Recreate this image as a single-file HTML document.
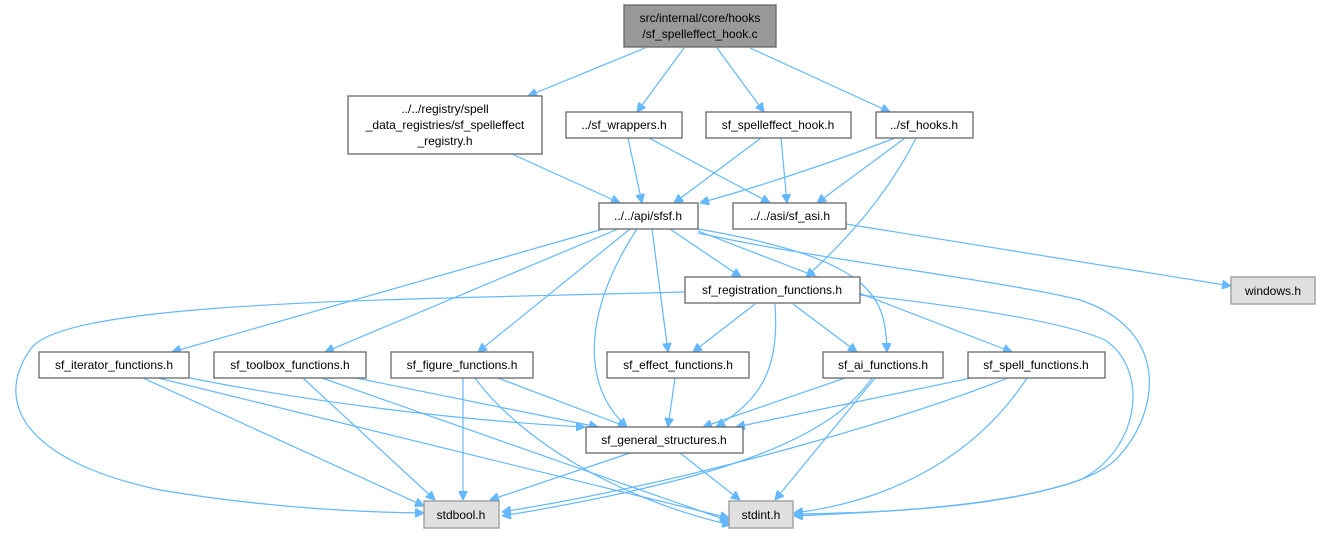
<!DOCTYPE html>
<html><head><meta charset="utf-8"><style>
html,body{margin:0;padding:0;background:#fff;}
svg{display:block;}
text{font-family:"Liberation Sans",Arial,sans-serif;font-size:12px;fill:#000;}
.n{fill:#fff;stroke:#666;stroke-width:1.3;}
.g{fill:#e0e0e0;stroke:#999;stroke-width:1.3;}
.r{fill:#999;stroke:#666;stroke-width:1.3;}
path{fill:none;stroke:#63b8ff;stroke-width:1.2;marker-end:url(#a);}
</style></head><body>
<svg width="1320" height="533" viewBox="0 0 1320 533" xmlns="http://www.w3.org/2000/svg">
<defs><marker id="a" viewBox="0 0 10 10" refX="10" refY="5" markerWidth="9" markerHeight="9" markerUnits="userSpaceOnUse" orient="auto"><path d="M0,0 L10,5 L0,10 z" style="fill:#63b8ff;stroke:#63b8ff;marker-end:none"/></marker></defs>

<path d="M645,48 L528,96"/>
<path d="M684,48 L637,112"/>
<path d="M717,48 L764,112"/>
<path d="M750,48 L890,112"/>
<path d="M512,154 L620,203"/>
<path d="M628,138 L642,203"/>
<path d="M649,138 L770,203"/>
<path d="M761,138 L674,203"/>
<path d="M781,138 L787,203"/>
<path d="M895,138 Q800,175 700,203"/>
<path d="M905,138 L817,203"/>
<path d="M916,138 Q880,210 806,277"/>
<path d="M846,224 L1231,286"/>
<path d="M603,229 L172,352"/>
<path d="M618,229 L325,352"/>
<path d="M630,229 L478,352"/>
<path d="M637,229 C590,300 575,380 627,427"/>
<path d="M652,229 L668,352"/>
<path d="M670,229 L741,277"/>
<path d="M698,229 C880,260 885,300 887,352"/>
<path d="M698,231 L1012,352"/>
<path d="M698,233 C820,260 1000,280 1080,300 C1170,330 1160,410 1120,455 C1080,505 880,512 794,516"/>
<path d="M685,292 C400,300 60,300 30,350 C-5,400 20,460 160,490 C250,505 340,512 424,513"/>
<path d="M860,295 C950,305 1060,320 1105,340 C1150,370 1140,450 1080,480 C1000,508 880,513 794,514"/>
<path d="M755,304 L693,352"/>
<path d="M793,304 L857,352"/>
<path d="M775,304 C780,370 760,400 716,427"/>
<path d="M143,378 L424,506"/>
<path d="M158,378 L729,518"/>
<path d="M190,378 C300,400 450,420 585,427"/>
<path d="M303,378 L435,500"/>
<path d="M322,378 L729,521"/>
<path d="M356,378 L598,427"/>
<path d="M463,378 L463,500"/>
<path d="M475,378 C520,440 620,500 731,525"/>
<path d="M498,378 L627,427"/>
<path d="M675,378 L668,427"/>
<path d="M845,378 L703,427"/>
<path d="M872,378 C830,440 720,480 502,516"/>
<path d="M875,378 L775,500"/>
<path d="M971,378 L736,427"/>
<path d="M1008,378 C900,420 700,480 502,512"/>
<path d="M1027,378 C980,450 900,500 794,513"/>
<path d="M630,453 L490,500"/>
<path d="M680,453 L740,500"/>

<rect class="r" x="624" y="5" width="152" height="42"/>
<text x="700" y="22" text-anchor="middle">src/internal/core/hooks</text>
<text x="700" y="38" text-anchor="middle">/sf_spelleffect_hook.c</text>

<rect class="n" x="348" y="96" width="194" height="58"/>
<text x="445" y="113" text-anchor="middle">../../registry/spell</text>
<text x="445" y="129" text-anchor="middle">_data_registries/sf_spelleffect</text>
<text x="445" y="145" text-anchor="middle">_registry.h</text>

<rect class="n" x="566" y="112" width="116" height="26"/><text x="624" y="129" text-anchor="middle">../sf_wrappers.h</text>
<rect class="n" x="706" y="112" width="145" height="26"/><text x="778" y="129" text-anchor="middle">sf_spelleffect_hook.h</text>
<rect class="n" x="876" y="112" width="97" height="26"/><text x="924" y="129" text-anchor="middle">../sf_hooks.h</text>

<rect class="n" x="599" y="203" width="99" height="26"/><text x="648" y="220" text-anchor="middle">../../api/sfsf.h</text>
<rect class="n" x="733" y="203" width="113" height="26"/><text x="790" y="220" text-anchor="middle">../../asi/sf_asi.h</text>

<rect class="n" x="685" y="277" width="175" height="26"/><text x="772" y="294" text-anchor="middle">sf_registration_functions.h</text>
<rect class="g" x="1231" y="277" width="84" height="27"/><text x="1273" y="295" text-anchor="middle">windows.h</text>

<rect class="n" x="39" y="352" width="150" height="26"/><text x="114" y="369" text-anchor="middle">sf_iterator_functions.h</text>
<rect class="n" x="214" y="352" width="152" height="26"/><text x="290" y="369" text-anchor="middle">sf_toolbox_functions.h</text>
<rect class="n" x="391" y="352" width="142" height="26"/><text x="462" y="369" text-anchor="middle">sf_figure_functions.h</text>
<rect class="n" x="607" y="352" width="142" height="26"/><text x="678" y="369" text-anchor="middle">sf_effect_functions.h</text>
<rect class="n" x="823" y="352" width="120" height="26"/><text x="883" y="369" text-anchor="middle">sf_ai_functions.h</text>
<rect class="n" x="968" y="352" width="137" height="26"/><text x="1036" y="369" text-anchor="middle">sf_spell_functions.h</text>

<rect class="n" x="586" y="427" width="157" height="26"/><text x="664" y="444" text-anchor="middle">sf_general_structures.h</text>

<rect class="g" x="424" y="501" width="75" height="27"/><text x="461" y="519" text-anchor="middle">stdbool.h</text>
<rect class="g" x="729" y="501" width="64" height="27"/><text x="761" y="519" text-anchor="middle">stdint.h</text>
</svg>
</body></html>
